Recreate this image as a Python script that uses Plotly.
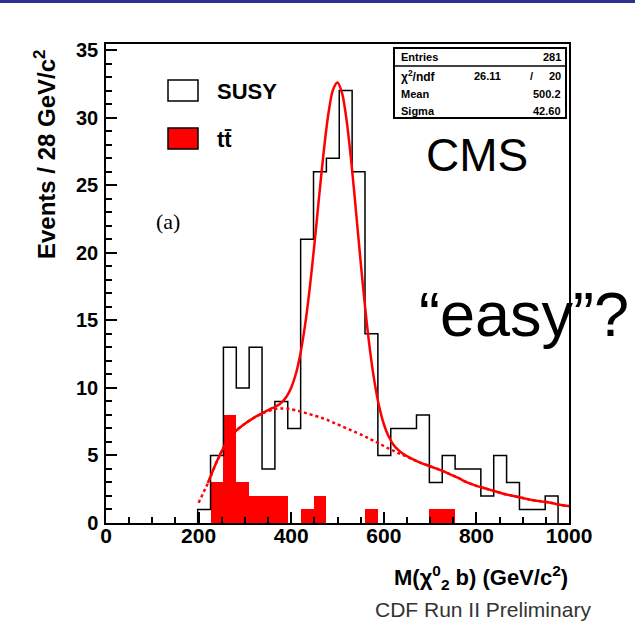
import numpy as np
import plotly.graph_objects as go

# ---- histogram data (GeV/c^2) ----
BIN_LOW = 198.0
BIN_WIDTH = 27.8

susy_counts = [1, 5, 13, 10, 13, 4, 9, 7, 21, 26, 27, 32, 26, 14,
               5, 7, 7, 8, 3, 5, 4, 4, 2, 5, 3, 1, 1, 2]
ttbar_counts = [0, 3, 8, 3, 2, 2, 2, 0, 1, 2, 0, 0, 0, 1,
                0, 0, 0, 0, 1, 1, 0, 0, 0, 0, 0, 0, 0, 0]

# ---- fit: background component sampled along the mass axis ----
bg_mass = [200, 220, 240, 260, 280, 300, 320, 340, 360, 370, 380, 390, 400,
           410, 420, 430, 440, 450, 460, 470, 480, 490, 500, 510, 520, 530,
           540, 550, 560, 570, 580, 590, 600, 610, 620, 630, 640, 660, 680,
           700, 720, 740, 760, 780, 800, 820, 840, 860, 880, 900, 920, 940,
           960, 980, 1000]
bg_value = [1.5, 2.95, 4.6, 5.95, 6.8, 7.35, 7.8, 8.15, 8.4, 8.45, 8.48, 8.47,
            8.42, 8.34, 8.25, 8.15, 8.05, 7.95, 7.85, 7.73, 7.6, 7.45, 7.3,
            7.15, 7.0, 6.85, 6.7, 6.55, 6.4, 6.22, 6.05, 5.88, 5.7, 5.52, 5.35,
            5.2, 5.05, 4.75, 4.45, 4.2, 3.95, 3.65, 3.35, 3.0, 2.75, 2.55, 2.35,
            2.15, 2.0, 1.85, 1.7, 1.6, 1.5, 1.35, 1.25]

# Gaussian signal component (stat box values)
FIT_MEAN = 500.2
FIT_SIGMA = 42.60
FIT_PEAK = 25.3
FIT_START = 220

stats_rows = [("Entries", "281"), ("Mean", "500.2"), ("Sigma", "42.60")]
chi2_value, ndf_value = "26.11", "20"

# ---- derived arrays ----
edges = BIN_LOW + BIN_WIDTH * np.arange(len(susy_counts) + 1)
centers = 0.5 * (edges[:-1] + edges[1:])

step_x = [edges[0]] + list(edges[:-1]) + [edges[-1]]
step_y = [0] + list(susy_counts) + [0]

bg_m = np.array(bg_mass, dtype=float)
bg_v = np.array(bg_value, dtype=float)
sel = bg_m >= FIT_START
tot_m = bg_m[sel]
tot_v = bg_v[sel] + FIT_PEAK * np.exp(-0.5 * ((tot_m - FIT_MEAN) / FIT_SIGMA) ** 2)

# ---- page geometry helpers (pixel -> paper fraction) ----
W, H = 635, 630
L, R, T, B = 106, 569, 44, 523


def px(x):
    return (x - L) / (R - L)


def py(y):
    return (B - y) / (B - T)


FONT = "Liberation Sans, Arial, Helvetica, sans-serif"

fig = go.Figure()

fig.add_trace(go.Scatter(
    x=step_x, y=step_y, mode="lines", line=dict(color="black", width=1.5, shape="hv"),
    showlegend=False, hoverinfo="skip"))

fig.add_trace(go.Bar(
    x=centers, y=ttbar_counts, width=BIN_WIDTH,
    marker=dict(color="#ff0000", line=dict(width=0)),
    showlegend=False, hoverinfo="skip"))

fig.add_trace(go.Scatter(
    x=bg_mass, y=bg_value, mode="lines",
    line=dict(color="#ff0000", width=2.5, dash="dot", shape="spline", smoothing=0.8),
    showlegend=False, hoverinfo="skip"))

fig.add_trace(go.Scatter(
    x=tot_m, y=tot_v, mode="lines",
    line=dict(color="#ff0000", width=2.5, shape="spline", smoothing=0.8),
    showlegend=False, hoverinfo="skip"))

shapes = [
    # header band
    dict(type="rect", xref="paper", yref="paper", x0=px(0), x1=px(W), y0=py(0), y1=py(3),
         fillcolor="#2e3192", line=dict(width=0), layer="above"),
    # legend swatches
    dict(type="rect", xref="paper", yref="paper", x0=px(168), x1=px(198), y0=py(80), y1=py(101),
         fillcolor="white", line=dict(color="black", width=1.5)),
    dict(type="rect", xref="paper", yref="paper", x0=px(168), x1=px(198), y0=py(128), y1=py(149),
         fillcolor="#ff0000", line=dict(color="black", width=1.5)),
    # stat box
    dict(type="rect", xref="paper", yref="paper", x0=px(394), x1=px(566), y0=py(48), y1=py(118),
         fillcolor="white", line=dict(color="black", width=2)),
    dict(type="line", xref="paper", yref="paper", x0=px(394), x1=px(566), y0=py(66), y1=py(66),
         line=dict(color="black", width=1.5)),
]

ann = []


def text(x, y, s, size, xanchor="center", bold=False, family=FONT, color="black", angle=0):
    ann.append(dict(x=px(x), y=py(y), xref="paper", yref="paper", text=s, showarrow=False,
                    xanchor=xanchor, yanchor="middle", textangle=angle,
                    font=dict(size=size, family=family, color=color,
                              weight="bold" if bold else "normal")))


# axis titles
text(45, 155, "Events / 28 GeV/c<sup>2</sup>", 24, bold=True, angle=-90)
text(570, 577, "M(χ<sup>0</sup><sub>2</sub> b) (GeV/c<sup>2</sup>)", 22, xanchor="right", bold=True)
text(483, 610, "CDF Run II Preliminary", 21, color="#333333")

# legend labels
text(215, 91, "SUSY", 22, xanchor="left", bold=True)
text(215, 139, "tt\u0304", 22, xanchor="left", bold=True)

# panel label and slide captions
text(168, 221, "(a)", 22, family="Liberation Serif, Times New Roman, serif")
text(477, 155, "CMS", 46)
text(417, 314, "\u201ceasy\u201d?", 63, xanchor="left")

# stat box content
row_y = [57, 94, 111]
for (name, val), yy in zip(stats_rows, row_y):
    text(399, yy, name, 11, xanchor="left", bold=True)
    text(563, yy, val, 11, xanchor="right", bold=True)
text(399, 76, "χ<sup>2</sup>/ndf", 12, xanchor="left", bold=True)
text(503, 76, chi2_value, 11, xanchor="right", bold=True)
text(531, 76, "/", 11, bold=True)
text(563, 76, ndf_value, 11, xanchor="right", bold=True)

fig.update_layout(
    width=W, height=H,
    margin=dict(l=L, r=W - R, t=T, b=H - B, pad=0),
    paper_bgcolor="white", plot_bgcolor="white",
    shapes=shapes, annotations=ann,
    bargap=0,
    xaxis=dict(range=[0, 1000], dtick=200, tick0=0, ticks="inside", ticklen=11, tickwidth=1.5,
               tickcolor="black", showline=True, linecolor="black", linewidth=1.5, mirror=True,
               showgrid=False, zeroline=False, ticklabelstandoff=-7,
               tickfont=dict(size=21, family=FONT, color="black", weight="bold"),
               minor=dict(dtick=50, ticks="inside", ticklen=6, tickwidth=1.5, tickcolor="black",
                          showgrid=False)),
    yaxis=dict(range=[0, 35.45], dtick=5, tick0=0, ticks="inside", ticklen=11, tickwidth=1.5,
               tickcolor="black", showline=True, linecolor="black", linewidth=1.5, mirror=True,
               showgrid=False, zeroline=False, ticklabelstandoff=2,
               tickfont=dict(size=20, family=FONT, color="black", weight="bold"),
               minor=dict(dtick=1, ticks="inside", ticklen=6, tickwidth=1.5, tickcolor="black",
                          showgrid=False)),
)

fig.write_html("out.html")
